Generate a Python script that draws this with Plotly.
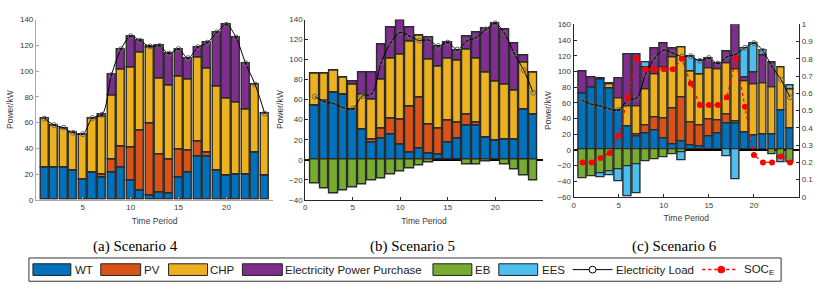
import plotly.graph_objects as go

# ---------------- data ----------------
periods = list(range(1, 25))

load = [63, 58, 56, 52, 51, 63.5, 66, 97, 117, 127, 123.5, 119, 119.5, 113.5,
        117, 110, 118.5, 122, 130, 136, 126, 106, 89.5, 67]

# Scenario 4
wt4 = [25, 25, 25, 22.5, 16, 21, 17.5, 21.5, 25, 15, 7.5, 3.5, 6, 5, 17.5, 21.5,
       34, 34, 22.5, 19, 20, 20, 37, 18.5]
pv4 = [0, 0, 0, 0, 0, 0, 2.5, 10, 16.5, 25.5, 46, 55.5, 29.5, 26.5, 21.5, 16.5,
       11.5, 2.5, 0, 0, 0, 0, 0, 0]
chp4 = [38, 33, 30.5, 29.5, 34.5, 42, 45, 49.5, 60, 62.5, 61, 59.5, 59, 57, 57,
        55.5, 65, 65.5, 65.5, 60, 55.5, 50.5, 52.5, 48.5]
buy4 = [0, 0, 0, 0, 0, 0, 1, 16, 15.5, 24, 9, 0.5, 25, 25, 21, 16, 8, 20, 42, 57,
        50.5, 35.5, 0, 0]

# Scenario 5
wt5 = [54, 59, 67, 65, 50, 30, 17.5, 21.5, 25, 15, 7, 11, 6, 5, 17.5, 21.5, 34,
       34, 22.5, 19, 20, 20, 50.5, 45]
pv5 = [0, 0, 0, 0, 0, 0, 2.5, 10, 16.5, 25, 46, 51, 29, 26.5, 21.5, 16, 11, 3,
       0, 0, 0, 0, 0, 0]
chp5 = [32, 27, 22, 17, 25.5, 35.5, 40.5, 49, 59.5, 65, 65, 62.5, 65, 62, 62,
        61.5, 65.5, 64.5, 65, 59.5, 55, 49.5, 47, 42]
buy5 = [0, 0, 0, 0, 2.5, 21.5, 26.5, 34.5, 31.5, 34, 14.5, 0, 22.5, 19.5, 16,
        10.5, 13, 25.5, 44, 57.5, 55.5, 46.5, 7, 0]
eb5 = [-24, -28.5, -33.5, -30.5, -27.5, -24.5, -21, -18.5, -15, -12, -9, -6, -3,
       0, 0, 0, -5, -5, -2, 0, -5, -10, -15.5, -20.5]

# Scenario 6
wt6 = [71.5, 80, 90, 79, 50, 30, 17.5, 21.5, 25, 15, 7, 11, 6, 5, 17.5, 21.5, 34,
       34, 22.5, 18.5, 19.5, 19.5, 50, 27.5]
pv6 = [0, 0, 0, 0, 0, 0, 2.5, 10, 16.5, 25, 46, 55.5, 29, 26.5, 21.5, 16, 11,
       2.5, 0, 0, 0, 0, 0, 0]
chp6 = [0, 0, 0, 5, 15.5, 25, 35, 45, 54.5, 65.5, 64.5, 64.5, 65.5, 65, 65, 65.5,
        65.5, 65.5, 65, 65.5, 65.5, 60.5, 55.5, 49.5]
buy6 = [28.5, 12, 1, 1, 25.5, 66.5, 66.5, 28.5, 33, 30.5, 11.5, 0, 0, 0, 13, 7,
        15.5, 58, 5, 15, 35, 31, 0, 0]
eb6 = [-36.5, -34, -30, -27.5, -24.5, -21.5, -18, -15, -12, -9, -5.5, -3, 0, 0,
       0, 0, 0, 0, 0, 0, 0, -5.5, -10, -15.5]
ees6 = [0, 0, -4.5, -5, -15.5, -37.5, -38, 7, 0, 0, 0, -10, 18.5, 17, 0, 0, -8,
        -37.5, 37.5, 37, 6.5, 0, -6, 5.5]
soc6 = [0.2, 0.2, 0.225, 0.255, 0.355, 0.577, 0.8, 0.74, 0.74, 0.74, 0.74, 0.8,
        0.657, 0.532, 0.532, 0.532, 0.577, 0.8, 0.522, 0.243, 0.2, 0.2, 0.234, 0.2]

panel_titles = ["(a) Scenario 4", "(b) Scenario 5", "(c) Scenario 6"]
legend_labels = ["WT", "PV", "CHP", "Electricity Power Purchase", "EB", "EES",
                 "Electricity Load", "SOC<sub>E</sub>"]

# ---------------- style ----------------
W, H = 821, 294
C = {"WT": "#0072BD", "PV": "#D95319", "CHP": "#EDB120", "BUY": "#7E2F8E",
     "EB": "#77AC30", "EES": "#4DBEEE"}
EDGE = dict(color="#2b2b2b", width=1.4)
BW = 0.86
TICKF = dict(family="Liberation Sans, Arial", size=8, color="#3a3a3a")
TITF = dict(family="Liberation Sans, Arial", size=8.5, color="#3a3a3a")


def fx(p):
    return p / W


def fy(p):
    return 1 - p / H


fig = go.Figure()


def add_bars(xa, ya, series):
    for key, vals in series:
        fig.add_trace(go.Bar(x=periods, y=vals, width=BW, marker_color=C[key],
                             marker_line=EDGE, xaxis=xa, yaxis=ya,
                             showlegend=False, hoverinfo="skip"))


def add_load(xa, ya):
    fig.add_trace(go.Scatter(x=periods, y=load, mode="lines+markers",
                             line=dict(color="black", width=1, shape="spline",
                                       smoothing=1),
                             marker=dict(symbol="circle-open", size=5,
                                         color="#666", line=dict(width=1)),
                             xaxis=xa, yaxis=ya, showlegend=False))


add_bars("x", "y", [("WT", wt4), ("PV", pv4), ("CHP", chp4), ("BUY", buy4)])
add_load("x", "y")
add_bars("x2", "y2", [("WT", wt5), ("PV", pv5), ("CHP", chp5), ("BUY", buy5),
                      ("EB", eb5)])
add_load("x2", "y2")
add_bars("x3", "y3", [("WT", wt6), ("PV", pv6), ("CHP", chp6), ("BUY", buy6),
                      ("EB", eb6), ("EES", ees6)])
add_load("x3", "y3")
fig.add_trace(go.Scatter(x=periods, y=soc6, mode="lines+markers",
                         line=dict(color="#ff0000", width=1.3, dash="dot"),
                         marker=dict(symbol="circle", size=6, color="#ff0000"),
                         xaxis="x3", yaxis="y4", showlegend=False))


def xax(dom, rng, tv, anchor, lc):
    return dict(domain=dom, range=rng, tickvals=tv, ticks="inside", ticklen=3,
                tickcolor=lc, showline=True, linecolor=lc, linewidth=1,
                showgrid=False, zeroline=False, anchor=anchor, tickfont=TICKF,
                title=dict(text="Time Period", font=TITF, standoff=6))


def yax(dom, rng, anchor, lc, zl):
    return dict(domain=dom, range=rng, dtick=20, ticks="inside", ticklen=3,
                tickcolor=lc, showline=True, linecolor=lc, linewidth=1,
                showgrid=False, zeroline=zl, zerolinecolor="black",
                zerolinewidth=1.5, anchor=anchor, tickfont=TICKF,
                title=dict(text="Power/kW", font=TITF, standoff=4))


ydom12 = [fy(202), fy(16)]
ydom3 = [fy(199), fy(21)]
fig.update_layout(
    width=W, height=H, margin=dict(l=0, r=0, t=0, b=0),
    paper_bgcolor="white", plot_bgcolor="rgba(0,0,0,0)",
    barmode="relative", bargap=0,
    xaxis=xax([fx(34), fx(272)], [0.1, 24.9], [5, 10, 15, 20], "y", "#a8a8a8"),
    yaxis=yax(ydom12, [0, 140], "x", "#a8a8a8", False),
    xaxis2=xax([fx(304), fx(542)], [0, 25], [0, 5, 10, 15, 20], "y2", "#262626"),
    yaxis2=yax(ydom12, [-40, 140], "x2", "#262626", True),
    xaxis3=xax([fx(573), fx(799)], [0, 25], [0, 5, 10, 15, 20], "y3", "#262626"),
    yaxis3=yax(ydom3, [-60, 160], "x3", "#262626", True),
    yaxis4=dict(overlaying="y3", side="right", anchor="x3", range=[0, 1],
                tickvals=[i / 10 for i in range(11)],
                ticktext=["0", "0.1", "0.2", "0.3", "0.4", "0.5", "0.6", "0.7",
                          "0.8", "0.9", "1"],
                ticks="inside", ticklen=3, tickcolor="#262626", showline=True,
                linecolor="#262626", linewidth=1, showgrid=False,
                zeroline=False, tickfont=TICKF),
)

# ---------------- panel captions ----------------
for txt, cx in zip(panel_titles, [134, 412, 674]):
    fig.add_annotation(text=txt, x=fx(cx), y=fy(250), xref="paper",
                       yref="paper", showarrow=False, xanchor="center",
                       yanchor="middle",
                       font=dict(family="Liberation Serif, Times New Roman",
                                 size=15, color="black"))

# ---------------- legend (drawn) ----------------
shapes = [dict(type="rect", xref="paper", yref="paper", x0=fx(27), x1=fx(781),
               y0=fy(286), y1=fy(262), line=dict(color="#333", width=1),
               fillcolor="white", layer="below")]
sw = [(31, 69, C["WT"]), (99, 139, C["PV"]), (167, 206, C["CHP"]),
      (241, 281, C["BUY"]), (432, 471, C["EB"]), (498, 537, C["EES"])]
for x0, x1, col in sw:
    shapes.append(dict(type="rect", xref="paper", yref="paper", x0=fx(x0),
                       x1=fx(x1), y0=fy(280), y1=fy(268), fillcolor=col,
                       line=dict(color="#222", width=1)))
ly = 274
shapes.append(dict(type="line", xref="paper", yref="paper", x0=fx(572),
                   x1=fx(612), y0=fy(ly), y1=fy(ly),
                   line=dict(color="black", width=1)))
shapes.append(dict(type="circle", xref="paper", yref="paper", x0=fx(588.5),
                   x1=fx(595.5), y0=fy(ly + 3.5), y1=fy(ly - 3.5),
                   fillcolor="white", line=dict(color="black", width=1)))
shapes.append(dict(type="line", xref="paper", yref="paper", x0=fx(702),
                   x1=fx(736), y0=fy(ly), y1=fy(ly),
                   line=dict(color="#ff0000", width=1.5, dash="dot")))
shapes.append(dict(type="circle", xref="paper", yref="paper", x0=fx(717.5),
                   x1=fx(724.5), y0=fy(ly + 3.5), y1=fy(ly - 3.5),
                   fillcolor="#ff0000", line=dict(color="#ff0000", width=1)))
fig.update_layout(shapes=shapes)

text_x = [71, 140, 207, 282, 472, 539, 613, 742]
for lab, tx in zip(legend_labels, text_x):
    fig.add_annotation(text=lab, x=fx(tx), y=fy(ly), xref="paper",
                       yref="paper", showarrow=False, xanchor="left",
                       yanchor="middle",
                       font=dict(family="Liberation Sans, Arial", size=11.5,
                                 color="#222"))

fig.write_html("out.html",
               config={"displayModeBar": False},
               post_script="document.body.style.margin='0';"
                           "document.body.style.padding='0';")
